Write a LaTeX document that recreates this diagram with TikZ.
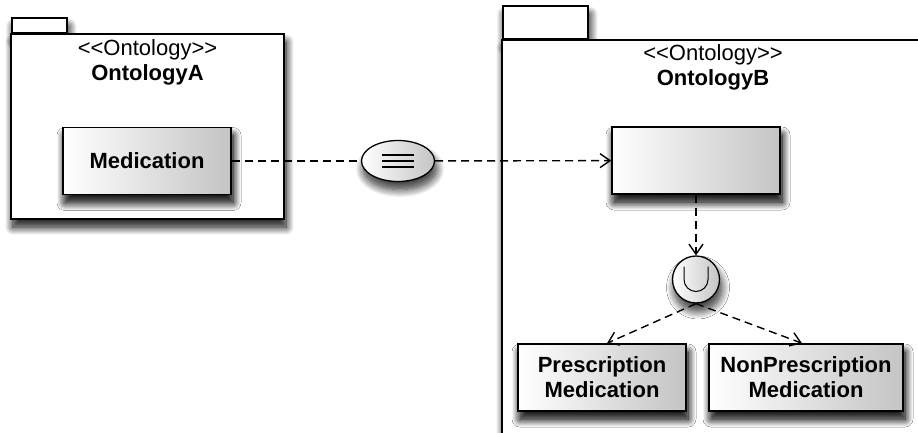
\documentclass[tikz,border=0pt]{standalone}
\usepackage{fontspec}
\setmainfont{Liberation Sans}
\usepackage{tikz}
\usetikzlibrary{positioning,arrows.meta,shapes.geometric,shadows.blur}
\usepackage{xcolor}
\definecolor{boxgray}{HTML}{C4C4C4}

\tikzset{
  uml/.style={font=\fontsize{22}{25}\selectfont},
  softshadow/.style={blur shadow={shadow xshift=2pt, shadow yshift=-8pt,
    shadow blur radius=8pt, shadow blur steps=10, shadow opacity=#1}},
  pkg/.style={draw, line width=1.5pt, fill=white, softshadow=90, softshadow=60},
  pkgtab/.style={pkg, anchor=south west},
  title/.style={uml, align=center, inner sep=0pt},
  cls/.style={uml, draw, line width=1.5pt, left color=white, right color=boxgray,
    font=\fontsize{22}{25}\selectfont\bfseries, align=center,
    minimum height=67pt, inner sep=0pt, softshadow=95, softshadow=70},
  oper/.style={draw, line width=1.3pt, left color=white, right color=boxgray, softshadow=85, softshadow=50},
  dep/.style={line width=1.4pt, dash pattern=on 8pt off 5pt},
  arr/.style={dep, -{Straight Barb[length=10pt,width=14pt,line width=1.4pt]}}
}

\begin{document}
\begin{tikzpicture}[x=1pt, y=-1pt]
  \useasboundingbox (0,0) rectangle (918,433);
  \clip (0,0) rectangle (918,433);

  % OntologyA package
  \node[pkgtab, minimum width=55pt, minimum height=15pt] (tabA) at (11,34) {};
  \node[pkg, minimum width=273pt, minimum height=185pt] (pkgA) at (147.5,126.5) {};
  \node[title, below=6pt of pkgA.north] (titleA) {<{}<Ontology>{}>\\\textbf{OntologyA}};

  % OntologyB package (runs past the page)
  \node[pkgtab, minimum width=85pt, minimum height=33pt] (tabB) at (502,40) {};
  \node[pkg, minimum width=422pt, minimum height=420pt] (pkgB) at (713,250) {};
  \node[title, below=5pt of pkgB.north] (titleB) {<{}<Ontology>{}>\\\textbf{OntologyB}};

  % classes
  \node[cls, minimum width=168pt] (med) at (147,161) {Medication};
  \node[cls, minimum width=168pt] (target) at (696,160.5) {};
  \node[cls, minimum width=168pt] (presc) at (602,377.5) {Prescription\\Medication};
  \node[cls, minimum width=194pt] (nonpresc) at (806,377.5) {NonPrescription\\Medication};

  % equivalence and union operators
  \node[oper, ellipse, minimum width=73pt, minimum height=41pt, inner sep=0pt] (equiv) at (398,161) {};
  \foreach \dy in {-6,0,6}
    \draw[line width=1.2pt] ([xshift=-16pt, yshift=-\dy pt]equiv.center) -- ++(32,0);
  \node[oper, circle, minimum size=47pt, inner sep=0pt] (union) at (696,279.5) {};
  \draw[line width=1pt] ([shift={(-12pt,13pt)}]union.center) -- ++(0,13)
    arc[start angle=180, end angle=0, radius=12] -- ++(0,-13);

  % mappings
  \draw[dep] (med) -- (equiv);
  \draw[arr] (equiv) -- (target);
  \draw[arr] (target) -- (union);
  \draw[arr] (union.south) -- ([xshift=5pt]presc.north);
  \draw[arr] (union.south) -- ([xshift=-4pt]nonpresc.north);
\end{tikzpicture}
\end{document}
